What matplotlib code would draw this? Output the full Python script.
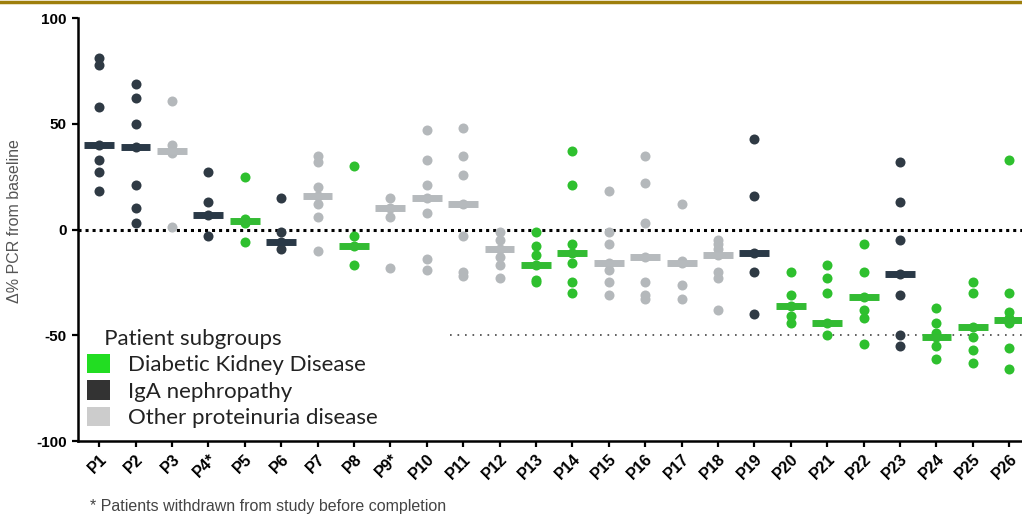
import matplotlib
matplotlib.use('Agg')
import matplotlib.pyplot as plt
from matplotlib.patches import Patch
from matplotlib.lines import Line2D

# patients and their subgroup (D = diabetic kidney, I = IgA, O = other)
patients = ['P1', 'P2', 'P3', 'P4*', 'P5', 'P6', 'P7', 'P8', 'P9*', 'P10', 'P11', 'P12', 'P13',
            'P14', 'P15', 'P16', 'P17', 'P18', 'P19', 'P20', 'P21', 'P22', 'P23', 'P24', 'P25', 'P26']
groups = ['I', 'I', 'O', 'I', 'D', 'I', 'O', 'D', 'O', 'O', 'O', 'O', 'D',
          'D', 'O', 'O', 'O', 'O', 'I', 'D', 'D', 'D', 'I', 'D', 'D', 'D']

# individual measurements (delta % PCR from baseline)
values = [
    [81, 78, 58, 40, 33, 27, 18],
    [69, 62, 50, 39, 21, 10, 3],
    [61, 40, 36, 1],
    [27, 13, 7, -3],
    [25, 5, 3, -6],
    [15, -1, -6, -9],
    [35, 32, 20, 16, 12, 6, -10],
    [30, -3, -8, -17],
    [15, 10, 6, -18],
    [47, 33, 21, 15, 8, -14, -19],
    [48, 35, 26, 12, -3, -20, -22],
    [-1, -5, -9, -13, -17, -23],
    [-1, -8, -12, -17, -24, -25],
    [37, 21, -7, -11, -16, -25, -30],
    [18, -1, -7, -16, -19, -25, -31],
    [35, 22, 3, -13, -25, -31, -33],
    [12, -15, -16, -26, -33],
    [-5, -7, -9, -12, -20, -23, -38],
    [43, 16, -11, -20, -40],
    [-20, -31, -36, -41, -44],
    [-17, -23, -30, -44, -50],
    [-7, -20, -32, -38, -42, -54],
    [32, 13, -5, -21, -31, -50, -55],
    [-37, -44, -49, -51, -55, -61],
    [-25, -30, -46, -51, -57, -63],
    [33, -30, -39, -42, -44, -56, -66],
]
medians = [40, 39, 37, 7, 4, -6, 16, -8, 10, 15, 12, -9, -17,
           -11, -16, -13, -16, -12, -11, -36, -44, -32, -21, -51, -46, -43]

dot_colors = {'D': '#2EC02E', 'I': '#2F3A44', 'O': '#B4B8BB'}
med_colors = {'D': '#33BB33', 'I': '#2A3947', 'O': '#B6BABD'}
legend_labels = ['Diabetic Kidney Disease', 'IgA nephropathy', 'Other proteinuria disease']
legend_colors = ['#22DD22', '#333333', '#CCCCCC']

fig = plt.figure(figsize=(10.22, 5.16), dpi=100)
ax = fig.add_axes([0.0763, 0.1453, 0.9237, 0.8197])

for i, (vals, g) in enumerate(zip(values, groups)):
    ax.scatter([i] * len(vals), vals, s=52, color=dot_colors[g], zorder=3, linewidths=0)
    ax.hlines(medians[i], i - 0.41, i + 0.41, color=med_colors[g], lw=5, zorder=4)

ax.axhline(0, color='black', ls=(0, (1, 1.3)), lw=2.2, zorder=2)
ax.axhline(-50, xmin=0.394, color='#444444', ls=(0, (1, 3.5)), lw=1.2, zorder=2)

ax.set_xlim(-0.58, 25.35)
ax.set_ylim(-100, 100)
ax.set_yticks([100, 50, 0, -50, -100])
ax.set_yticklabels(['100', '50', '0', '-50', '-100'], fontsize=11, fontweight='bold',
                   family='Liberation Sans')
ax.set_xticks(range(len(patients)))
ax.set_xticklabels(patients, rotation=45, ha='right', rotation_mode='anchor',
                   fontsize=11.5, fontweight='bold', family='Liberation Sans')
ax.tick_params(axis='both', length=4.5, width=1.6, color='black')
ax.tick_params(axis='x', pad=3)
for s in ['top', 'right']:
    ax.spines[s].set_visible(False)
for s in ['left', 'bottom']:
    ax.spines[s].set_linewidth(1.8)

ax.set_ylabel('Δ% PCR from baseline', fontsize=11.5, color='#555555', family='Liberation Sans')
ax.yaxis.set_label_coords(-0.059, 0.52)

handles = [Patch(facecolor=c, edgecolor='none') for c in legend_colors]
leg = ax.legend(handles, legend_labels, title='   Patient subgroups', loc='upper left',
                bbox_to_anchor=(0.0095, 0.265), frameon=False,
                handlelength=1.05, handleheight=0.95, handletextpad=0.8,
                labelspacing=0.23, borderaxespad=0, borderpad=0,
                prop={'family': 'Lato', 'size': 16})
leg.get_title().set_family('Lato')
leg.get_title().set_fontsize(16)
leg._legend_box.align = 'left'
for t in leg.get_texts():
    t.set_color('#222222')
leg.get_title().set_color('#222222')

fig.text(90 / 1022, 1 - 507 / 516, '* Patients withdrawn from study before completion',
         fontsize=11.5, color='#444444', family='Liberation Sans', va='center')

# gold rule along the top
fig.add_artist(Line2D([0, 1], [0.996, 0.996], transform=fig.transFigure,
                      color='#9E7F0C', lw=2.5))

fig.savefig('out.png', dpi=100)
